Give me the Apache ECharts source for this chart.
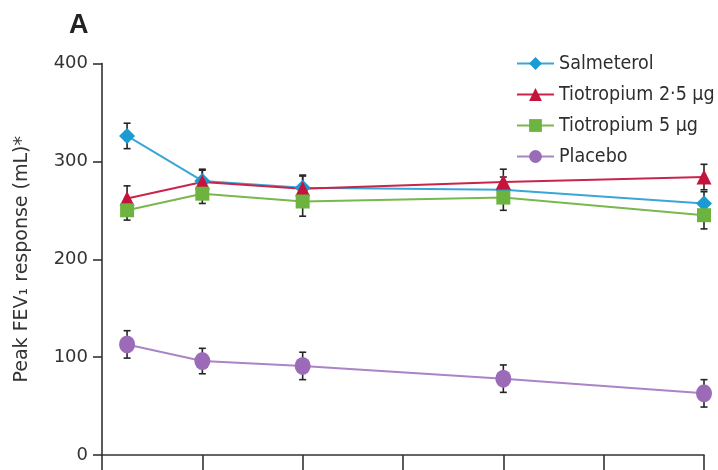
<!DOCTYPE html>
<html><head><meta charset="utf-8">
<script src="https://cdn.jsdelivr.net/npm/echarts@6/dist/echarts.min.js"></script>
<style>html,body{margin:0;padding:0;background:#fff}#c{width:718px;height:470px}</style>
</head><body><div id="c"></div>
<script>
const weeks = [1, 4, 8, 16, 24];
const xTicks = [0, 4, 8, 12, 16, 20, 24];
const yTicks = [0, 100, 200, 300, 400];
const seriesNames = ['Salmeterol', 'Tiotropium 2·5 µg', 'Tiotropium 5 µg', 'Placebo'];
const salmeterol = [326, 280, 273, 271, 257];
const salmeterolErr = [13, 12, 13, 13, 12];
const tio25 = [262, 279, 272, 279, 284];
const tio25Err = [13, 12, 13, 13, 13];
const tio5 = [250, 267, 259, 263, 245];
const tio5Err = [10, 10, 15, 13, 14];
const placebo = [113, 96, 91, 78, 63];
const placeboErr = [14, 13, 14, 14, 14];

const colors = ['#1c9ad2', '#c4143c', '#6db33f', '#9b6bb8'];
const lineColors = ['#3aa6d8', '#c9244a', '#78b84c', '#ab84c6'];
const symbols = ['diamond', 'triangle', 'rect', 'circle'];
const sizes = [16, 15, 14, [16, 18]];
const vals = [salmeterol, tio25, tio5, placebo];
const errs = [salmeterolErr, tio25Err, tio5Err, placeboErr];
const LEG_FONT = '"DejaVu Sans Condensed", "DejaVu Sans", sans-serif';
const AX_FONT = '"DejaVu Sans", sans-serif';

function errSeries(v, e) {
  return {
    type: 'custom', silent: true, z: 1,
    data: weeks.map((w, i) => [w, v[i] - e[i], v[i] + e[i]]),
    renderItem: function (params, api) {
      const lo = api.coord([api.value(0), api.value(1)]);
      const hi = api.coord([api.value(0), api.value(2)]);
      const hw = 3.5;
      const st = { stroke: '#252525', lineWidth: 1.6 };
      return { type: 'group', children: [
        { type: 'line', shape: { x1: lo[0], y1: lo[1], x2: hi[0], y2: hi[1] }, style: st },
        { type: 'line', shape: { x1: lo[0] - hw, y1: lo[1], x2: lo[0] + hw, y2: lo[1] }, style: st },
        { type: 'line', shape: { x1: hi[0] - hw, y1: hi[1], x2: hi[0] + hw, y2: hi[1] }, style: st }
      ]};
    }
  };
}

const series = [];
vals.forEach((v, k) => series.push(errSeries(v, errs[k])));
vals.forEach((v, k) => series.push({
  type: 'line', name: seriesNames[k], z: 3,
  data: weeks.map((w, i) => [w, v[i]]),
  symbol: symbols[k], symbolSize: sizes[k],
  lineStyle: { color: lineColors[k], width: 2 },
  itemStyle: { color: colors[k] },
  emphasis: { disabled: true }
}));

const chart = echarts.init(document.getElementById('c'), null, { renderer: 'canvas' });
chart.setOption({
  animation: false,
  title: { text: 'A', left: 64, top: 7, textStyle: { fontFamily: 'Liberation Sans', fontSize: 27, fontWeight: 'bold', color: '#222' } },
  legend: {
    orient: 'vertical', left: 511, top: 48, itemGap: 10,
    itemWidth: 37, itemHeight: 16,
    data: seriesNames,
    textStyle: { fontFamily: LEG_FONT, fontSize: 19.5, color: '#2e2e2e', lineHeight: 21 }
  },
  grid: { left: 102, right: 14, top: 63.5, bottom: 15 },
  xAxis: {
    type: 'value', min: xTicks[0], max: xTicks[xTicks.length - 1], interval: 4,
    axisLine: { lineStyle: { color: '#333', width: 1.6 } },
    axisTick: { show: true, length: 16, lineStyle: { color: '#333', width: 1.6 } },
    axisLabel: { show: false }, splitLine: { show: false }
  },
  yAxis: {
    type: 'value', min: yTicks[0], max: yTicks[yTicks.length - 1], interval: 100,
    name: 'Peak FEV₁ response (mL)*', nameLocation: 'middle', nameRotate: 90, nameGap: 70,
    nameTextStyle: { fontFamily: AX_FONT, fontSize: 19, color: '#333' },
    axisLine: { show: true, lineStyle: { color: '#333', width: 1.6 } },
    axisTick: { show: true, length: 9, lineStyle: { color: '#333', width: 1.6 } },
    axisLabel: { fontFamily: AX_FONT, fontSize: 18, color: '#333', margin: 14 },
    splitLine: { show: false }
  },
  series: series
});
</script></body></html>
